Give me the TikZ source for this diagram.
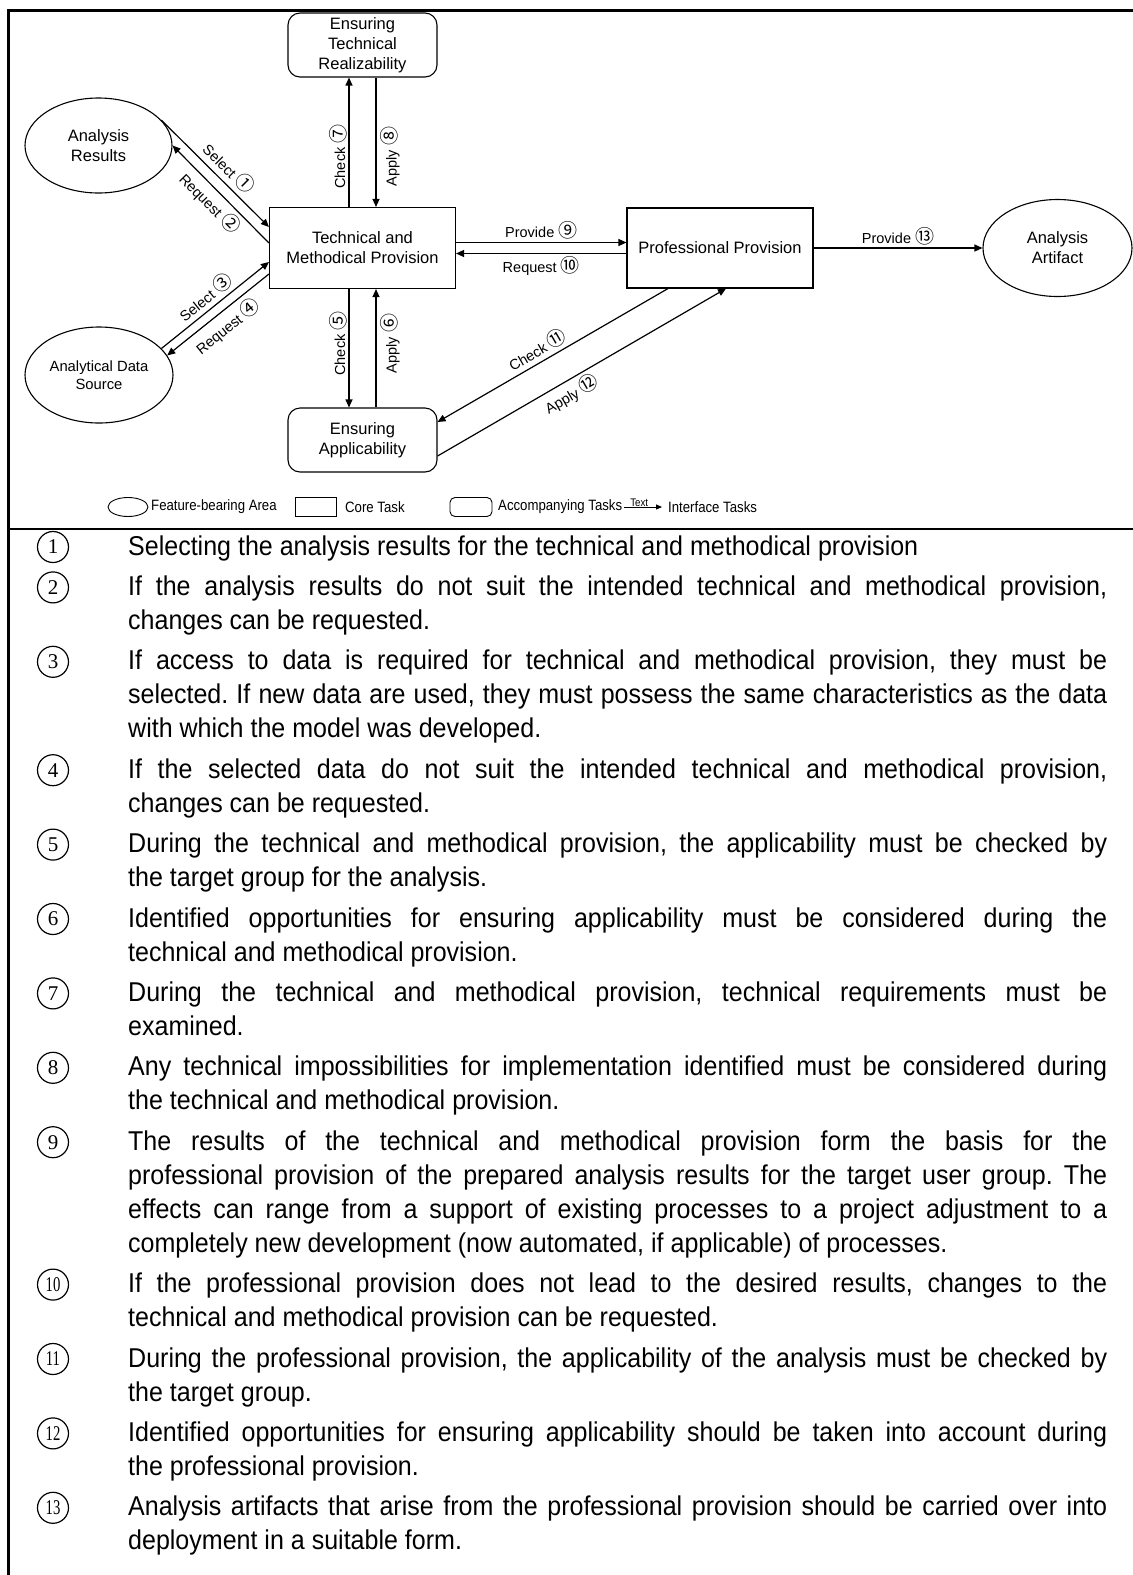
\documentclass[tikz,border=0pt]{standalone}
\usepackage{fontspec}
\setmainfont{Liberation Sans}
\newfontfamily\descfont[FakeStretch=0.92]{Liberation Sans}
\newfontfamily\numfont{Liberation Serif}
\newfontfamily\legfont[FakeStretch=0.88]{Liberation Sans}
\newfontfamily\cjkfont{Noto Sans CJK SC}
\usetikzlibrary{shapes.geometric,arrows.meta,calc}
\newcommand{\cq}[1]{{\cjkfont\fontsize{19}{19}\selectfont #1}}
\newcommand{\jl}[1]{\makebox[979pt][s]{#1}}
\frenchspacing
\begin{document}
\begin{tikzpicture}[x=1pt,y=-1pt,
  core/.style={draw,line width=1.1pt,rectangle,minimum width=186pt,minimum height=81pt,inner sep=0pt,align=center,font=\fontsize{16.5}{20}\selectfont},
  acc/.style={draw,line width=1.1pt,rectangle,rounded corners=12pt,minimum width=149pt,minimum height=64pt,inner sep=0pt,align=center,font=\fontsize{16.5}{20}\selectfont},
  area/.style={draw,line width=1.1pt,ellipse,inner sep=0pt},
  areatext/.style={align=center,inner sep=0pt,font=\fontsize{16.5}{20}\selectfont},
  conn/.style={line width=1.2pt,-{Triangle[length=8pt,width=7pt]}},
  connr/.style={line width=1.2pt,{Triangle[length=8pt,width=7pt]}-},
  lab/.style={inner sep=1.5pt,font=\fontsize{14.5}{16}\selectfont},
  desc/.style={anchor=base west,inner sep=0pt,font=\descfont\fontsize{27.2}{30}\selectfont},
  numc/.style={circle,draw,line width=1.2pt,minimum size=31pt,inner sep=0pt,font=\numfont\fontsize{21}{22}\selectfont},
  leg/.style={anchor=west,inner sep=0pt,font=\legfont\fontsize{15}{16}\selectfont},
  frame/.style={line width=2.6pt}
]
\useasboundingbox (0,0) rectangle (1133,1575);
% frame
\coordinate (ftl) at (8.7,10.7);
\coordinate (ftr) at (1133,10.7);
\coordinate (fbl) at (8.7,1575);
\coordinate (fml) at (8.7,529);
\coordinate (fmr) at (1133,529);
\draw[frame] (ftr) -- (ftl) -- (fbl);
\draw[frame] (fml) -- (fmr);

% nodes
\node[acc] (etr) at (362.5,45) {Ensuring\\Technical\\Realizability};
\node[core] (tmp) at (362.5,248) {Technical and\\Methodical Provision};
\node[acc] (ea) at (362.5,440) {Ensuring\\Applicability};
\node[core,minimum height=80pt] (pp) at (720,248) {Professional Provision};
\node[area,minimum width=147pt,minimum height=95pt] (ar) at (98.5,145.5) {};
\node[areatext] (art) at (ar) {Analysis\\Results};
\node[area,minimum width=148pt,minimum height=96pt] (ads) at (99,375) {};
\node[areatext,font=\fontsize{14.8}{17.5}\selectfont] (adst) at (ads) {Analytical Data\\Source};
\node[area,minimum width=149pt,minimum height=97pt] (aa) at (1057.5,248) {};
\node[areatext] (aat) at (aa) {Analysis\\Artifact};

% connectors
\draw[conn] (ar.22) -- node[lab,sloped,pos=0.54,above=3pt] (l1) {Select \cq{①}} ([yshift=21pt]tmp.west);
\draw[connr] (ar.0) -- node[lab,sloped,pos=0.49,below=2pt] (l2) {Request \cq{②}} ([yshift=5pt]tmp.west);
\draw[conn] (ads.23) -- node[lab,sloped,pos=0.48,above=2pt] (l3) {Select \cq{③}} ([yshift=-14pt]tmp.west);
\draw[connr] (ads.16) -- node[lab,sloped,pos=0.5,below=3pt] (l4) {Request \cq{④}} ([yshift=-26pt]tmp.west);

\draw[conn] ([xshift=-13.5pt]tmp.north) -- node[lab,pos=0.39,xshift=-11pt,rotate=90] (l7) {Check \cq{⑦}} ([xshift=-13.5pt]etr.south);
\draw[connr] ([xshift=13.5pt]tmp.north) -- node[lab,pos=0.39,xshift=14pt,rotate=90] (l8) {Apply \cq{⑧}} ([xshift=13.5pt]etr.south);
\draw[conn] ([xshift=-13.5pt]tmp.south) -- node[lab,pos=0.46,xshift=-11pt,rotate=90] (l5) {Check \cq{⑤}} ([xshift=-13.5pt]ea.north);
\draw[connr] ([xshift=13.5pt]tmp.south) -- node[lab,pos=0.46,xshift=14pt,rotate=90] (l6) {Apply \cq{⑥}} ([xshift=13.5pt]ea.north);

\draw[conn] ([yshift=5.5pt]tmp.east) -- node[lab,above=1pt] (l9) {Provide \cq{⑨}} ([yshift=5.5pt]pp.west);
\draw[connr] ([yshift=-5.5pt]tmp.east) -- node[lab,below=1pt] (l10) {Request \cq{⑩}} ([yshift=-5.5pt]pp.west);
\draw[conn] (pp.east) -- node[lab,above=1pt] (l13) {Provide \cq{⑬}} (aa.west);

\draw[connr] ([yshift=18pt]ea.east) -- node[lab,sloped,pos=0.46,above=2pt] (l11) {Check \cq{⑪}} ([xshift=-52pt]pp.south);
\draw[conn] ([yshift=-16pt]ea.east) -- node[lab,sloped,pos=0.44,below=2pt] (l12) {Apply \cq{⑫}} ([xshift=6pt]pp.south);

% legend
\node[area,minimum width=40pt,minimum height=19pt,line width=0.9pt] (lg1) at (128,507) {};
\node[leg] (lg1t) at (151,507) {Feature-bearing Area};
\node[draw,line width=0.9pt,minimum width=41pt,minimum height=19pt,inner sep=0pt] (lg2) at (316,507) {};
\node[leg] (lg2t) at (345,507) {Core Task};
\node[draw,line width=0.9pt,rounded corners=5pt,minimum width=42pt,minimum height=19pt,inner sep=0pt] (lg3) at (471,507) {};
\node[leg] (lg3t) at (498,507) {Accompanying Tasks};
\coordinate (lg4a) at (624,507);
\coordinate (lg4b) at (662,507);
\draw[line width=0.9pt,-{Triangle[length=6pt,width=5pt]}] (lg4a) -- node[pos=0.4,anchor=base,yshift=1pt,inner sep=0pt,font=\legfont\fontsize{11}{11}\selectfont] (lg4l) {Text} (lg4b);
\node[leg] (lg4t) at (668,507) {Interface Tasks};

% description list
\node[numc] (n1) at (53,547) {1};
\node[desc] (t1) at (128,555) {Selecting the analysis results for the technical and methodical provision};
\node[numc] (n2) at (53,587.4) {2};
\node[desc] (t2) at (128,595.4) {\jl{If the analysis results do not suit the intended technical and methodical provision,}};
\node[desc] (t3) at (128,629.4) {changes can be requested.};
\node[numc] (n3) at (53,661.8) {3};
\node[desc] (t4) at (128,669.8) {\jl{If access to data is required for technical and methodical provision, they must be}};
\node[desc] (t5) at (128,703.8) {\jl{selected. If new data are used, they must possess the same characteristics as the data}};
\node[desc] (t6) at (128,737.8) {with which the model was developed.};
\node[numc] (n4) at (53,770.2) {4};
\node[desc] (t7) at (128,778.2) {\jl{If the selected data do not suit the intended technical and methodical provision,}};
\node[desc] (t8) at (128,812.2) {changes can be requested.};
\node[numc] (n5) at (53,844.6) {5};
\node[desc] (t9) at (128,852.6) {\jl{During the technical and methodical provision, the applicability must be checked by}};
\node[desc] (t10) at (128,886.6) {the target group for the analysis.};
\node[numc] (n6) at (53,919) {6};
\node[desc] (t11) at (128,927) {\jl{Identified opportunities for ensuring applicability must be considered during the}};
\node[desc] (t12) at (128,961) {technical and methodical provision.};
\node[numc] (n7) at (53,993.4) {7};
\node[desc] (t13) at (128,1001.4) {\jl{During the technical and methodical provision, technical requirements must be}};
\node[desc] (t14) at (128,1035.4) {examined.};
\node[numc] (n8) at (53,1067.8) {8};
\node[desc] (t15) at (128,1075.8) {\jl{Any technical impossibilities for implementation identified must be considered during}};
\node[desc] (t16) at (128,1109.8) {the technical and methodical provision.};
\node[numc] (n9) at (53,1142.2) {9};
\node[desc] (t17) at (128,1150.2) {\jl{The results of the technical and methodical provision form the basis for the}};
\node[desc] (t18) at (128,1184.2) {\jl{professional provision of the prepared analysis results for the target user group. The}};
\node[desc] (t19) at (128,1218.2) {\jl{effects can range from a support of existing processes to a project adjustment to a}};
\node[desc] (t20) at (128,1252.2) {completely new development (now automated, if applicable) of processes.};
\node[numc] (n10) at (53,1284.6) {\scalebox{0.7}[1]{10}};
\node[desc] (t21) at (128,1292.6) {\jl{If the professional provision does not lead to the desired results, changes to the}};
\node[desc] (t22) at (128,1326.6) {technical and methodical provision can be requested.};
\node[numc] (n11) at (53,1359) {\scalebox{0.7}[1]{11}};
\node[desc] (t23) at (128,1367) {\jl{During the professional provision, the applicability of the analysis must be checked by}};
\node[desc] (t24) at (128,1401) {the target group.};
\node[numc] (n12) at (53,1433.4) {\scalebox{0.7}[1]{12}};
\node[desc] (t25) at (128,1441.4) {\jl{Identified opportunities for ensuring applicability should be taken into account during}};
\node[desc] (t26) at (128,1475.4) {the professional provision.};
\node[numc] (n13) at (53,1507.8) {\scalebox{0.7}[1]{13}};
\node[desc] (t27) at (128,1515.8) {\jl{Analysis artifacts that arise from the professional provision should be carried over into}};
\node[desc] (t28) at (128,1549.8) {deployment in a suitable form.};
\end{tikzpicture}
\end{document}
